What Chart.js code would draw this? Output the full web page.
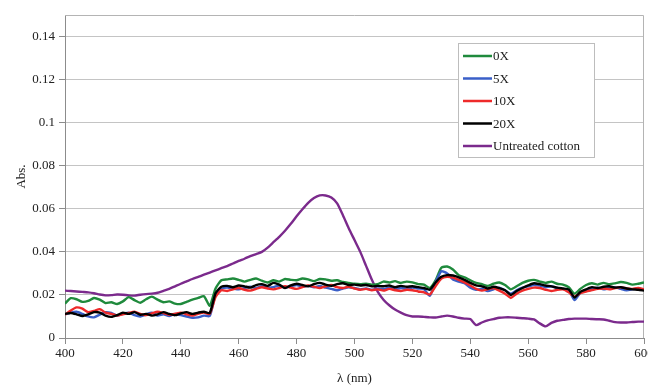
<!DOCTYPE html>
<html lang="en">
<head>
    <meta charset="UTF-8">
    <title>Absorbance spectra</title>
    <style>
        body {
            margin: 0;
            background: white;
        }

        #chart-container {
            width: 648px;
            height: 388px;
        }
    </style>
    <script src="https://cdn.jsdelivr.net/npm/chart.js"></script>
</head>
<body>
    <div id="chart-container">
        <canvas id="absChart" width="648" height="388"></canvas>
    </div>
    <script>
        // wavelength, 2 nm steps from 400 to 600
        const wavelengths = [];
        for (let w = 400; w <= 600; w += 2) wavelengths.push(w);

        const seriesNames = ['0X', '5X', '10X', '20X', 'Untreated cotton'];
        const seriesColors = ['#1f8a3c', '#3a5fc8', '#ee2a2a', '#000000', '#7b2a8c'];

        const abs0X = [
            .0160, .0185, .0180, .0168, .0172, .0186, .0178, .0162, .0166, .0158,
            .0170, .0190, .0176, .0164, .0180, .0192, .0178, .0166, .0170, .0160,
            .0158, .0168, .0178, .0186, .0194, .0150, .0230, .0268, .0272, .0276,
            .0270, .0262, .0270, .0276, .0266, .0258, .0268, .0262, .0274, .0270,
            .0268, .0276, .0272, .0264, .0274, .0272, .0266, .0268, .0260, .0256,
            .0252, .0250, .0252, .0248, .0250, .0262, .0258, .0264, .0256, .0262,
            .0258, .0250, .0248, .0232, .0268, .0326, .0332, .0318, .0292, .0282,
            .0268, .0256, .0250, .0242, .0252, .0258, .0246, .0226, .0240, .0256,
            .0266, .0270, .0262, .0256, .0262, .0252, .0248, .0236, .0206, .0228,
            .0246, .0254, .0248, .0256, .0250, .0254, .0260, .0256, .0248, .0252,
            .0258
        ];

        const abs5X = [
            .0110, .0118, .0122, .0112, .0100, .0096, .0108, .0120, .0116, .0104,
            .0112, .0118, .0106, .0100, .0110, .0118, .0104, .0110, .0102, .0112,
            .0106, .0100, .0094, .0096, .0104, .0102, .0200, .0228, .0234, .0230,
            .0226, .0232, .0238, .0232, .0240, .0234, .0236, .0244, .0234, .0240,
            .0246, .0238, .0242, .0236, .0242, .0234, .0228, .0222, .0230, .0236,
            .0232, .0226, .0230, .0224, .0230, .0228, .0234, .0226, .0232, .0228,
            .0234, .0230, .0226, .0196, .0260, .0310, .0300, .0272, .0262, .0254,
            .0234, .0224, .0228, .0218, .0226, .0234, .0222, .0206, .0222, .0234,
            .0240, .0246, .0244, .0236, .0240, .0232, .0228, .0222, .0176, .0210,
            .0222, .0228, .0234, .0226, .0232, .0236, .0228, .0222, .0226, .0230,
            .0224
        ];

        const abs10X = [
            .0108, .0128, .0142, .0136, .0120, .0126, .0134, .0118, .0112, .0104,
            .0110, .0116, .0122, .0112, .0106, .0114, .0122, .0116, .0108, .0112,
            .0118, .0110, .0104, .0112, .0118, .0112, .0190, .0222, .0218, .0226,
            .0232, .0224, .0220, .0228, .0236, .0230, .0226, .0232, .0240, .0234,
            .0228, .0236, .0244, .0238, .0232, .0240, .0246, .0236, .0232, .0238,
            .0230, .0224, .0228, .0222, .0226, .0220, .0228, .0222, .0218, .0224,
            .0222, .0216, .0212, .0202, .0240, .0276, .0284, .0280, .0270, .0258,
            .0244, .0228, .0220, .0226, .0232, .0220, .0206, .0186, .0206, .0220,
            .0228, .0234, .0232, .0224, .0218, .0224, .0226, .0212, .0192, .0208,
            .0216, .0222, .0228, .0230, .0226, .0232, .0236, .0230, .0228, .0232,
            .0226
        ];

        const abs20X = [
            .0112, .0116, .0110, .0102, .0110, .0120, .0118, .0104, .0098, .0106,
            .0118, .0112, .0120, .0108, .0112, .0104, .0110, .0120, .0112, .0106,
            .0114, .0120, .0112, .0118, .0122, .0116, .0208, .0238, .0242, .0236,
            .0244, .0240, .0234, .0246, .0250, .0242, .0256, .0248, .0232, .0244,
            .0252, .0246, .0240, .0250, .0256, .0248, .0242, .0250, .0254, .0246,
            .0248, .0244, .0246, .0240, .0242, .0240, .0244, .0236, .0242, .0238,
            .0240, .0236, .0232, .0224, .0258, .0284, .0292, .0290, .0282, .0270,
            .0256, .0244, .0240, .0230, .0238, .0232, .0222, .0200, .0218, .0232,
            .0244, .0254, .0250, .0244, .0240, .0234, .0230, .0226, .0188, .0214,
            .0226, .0236, .0232, .0238, .0240, .0234, .0236, .0230, .0226, .0224,
            .0220
        ];

        const absUntreated = [
            .0220, .0218, .0216, .0214, .0212, .0208, .0202, .0198, .0199, .0202,
            .0201, .0198, .0197, .0201, .0204, .0206, .0210, .0219, .0228, .0240,
            .0252, .0263, .0274, .0284, .0294, .0304, .0314, .0324, .0334, .0346,
            .0358, .0368, .0380, .0390, .0400, .0420, .0445, .0470, .0498, .0530,
            .0565, .0598, .0628, .0650, .0662, .0662, .0652, .0625, .0570, .0510,
            .0455, .0400, .0335, .0270, .0215, .0178, .0152, .0132, .0118, .0106,
            .0100, .0100, .0098, .0096, .0095, .0100, .0104, .0100, .0094, .0090,
            .0088, .0060, .0072, .0082, .0088, .0094, .0096, .0096, .0094, .0092,
            .0090, .0086, .0068, .0054, .0070, .0080, .0084, .0088, .0090, .0090,
            .0090, .0088, .0087, .0086, .0080, .0074, .0072, .0072, .0074, .0076,
            .0076
        ];

        const allSeries = [abs0X, abs5X, abs10X, abs20X, absUntreated];
        const drawOrder = [3, 2, 1, 0, 4]; // black on top, purple underneath

        const yTicksMax = 0.14;
        const serif = "'Liberation Serif', 'DejaVu Serif', serif";

        // frame round the plot area (top and right edges)
        const framePlugin = {
            id: 'frame',
            beforeDatasetsDraw(chart) {
                const { ctx, chartArea: a } = chart;
                ctx.save();
                ctx.strokeStyle = '#b4b4b4';
                ctx.lineWidth = 1;
                ctx.beginPath();
                ctx.moveTo(a.left, a.top + 0.5);
                ctx.lineTo(a.right - 0.5, a.top + 0.5);
                ctx.lineTo(a.right - 0.5, a.bottom);
                ctx.stroke();
                ctx.restore();
            }
        };

        // boxed legend sitting inside the plot
        const boxLegendPlugin = {
            id: 'boxLegend',
            afterDraw(chart) {
                const ctx = chart.ctx;
                const x = 458, y = 43, w = 136, h = 114;
                ctx.save();
                ctx.fillStyle = 'white';
                ctx.fillRect(x, y, w, h);
                ctx.strokeStyle = '#bdbdbd';
                ctx.lineWidth = 1;
                ctx.strokeRect(x + 0.5, y + 0.5, w, h);
                ctx.font = '13px ' + serif;
                ctx.textBaseline = 'middle';
                chart.data.datasets.forEach((ds, i) => {
                    const cy = y + 13 + i * 22.5;
                    ctx.strokeStyle = ds.borderColor;
                    ctx.lineWidth = 2.5;
                    ctx.beginPath();
                    ctx.moveTo(x + 5, cy);
                    ctx.lineTo(x + 34, cy);
                    ctx.stroke();
                    ctx.fillStyle = '#222';
                    ctx.fillText(ds.label, x + 35, cy + 1);
                });
                ctx.restore();
            }
        };

        const ctx = document.getElementById('absChart').getContext('2d');
        new Chart(ctx, {
            type: 'line',
            data: {
                datasets: seriesNames.map((name, i) => ({
                    label: name,
                    data: wavelengths.map((w, j) => ({ x: w, y: allSeries[i][j] })),
                    borderColor: seriesColors[i],
                    borderWidth: 2.4,
                    pointRadius: 0,
                    tension: 0.2,
                    order: drawOrder[i]
                }))
            },
            options: {
                responsive: false,
                animation: false,
                layout: {
                    padding: { left: 10, right: 4, top: 15, bottom: 0 }
                },
                scales: {
                    x: {
                        type: 'linear',
                        min: 400,
                        max: 600,
                        afterFit: scale => {
                            scale.height = 50;
                            // let the last label run off the edge, as in the original
                            scale.paddingRight = 0;
                        },
                        ticks: {
                            stepSize: 20,
                            color: '#222',
                            padding: 2,
                            maxRotation: 0,
                            font: { family: serif, size: 13 }
                        },
                        grid: {
                            drawOnChartArea: false,
                            tickLength: 6,
                            tickColor: '#8c8c8c'
                        },
                        border: { color: '#8c8c8c' },
                        title: {
                            display: true,
                            text: 'λ (nm)',
                            color: '#222',
                            padding: { top: 0, bottom: 2 },
                            font: { family: serif, size: 13 }
                        }
                    },
                    y: {
                        min: 0,
                        max: 0.15,
                        afterFit: scale => { scale.width = 55; },
                        afterBuildTicks: scale => {
                            scale.ticks = scale.ticks.filter(t => t.value <= yTicksMax + 1e-9);
                        },
                        ticks: {
                            stepSize: 0.02,
                            color: '#222',
                            padding: 4,
                            font: { family: serif, size: 13 },
                            callback: v => String(+v.toFixed(2))
                        },
                        grid: {
                            color: '#c4c4c4',
                            tickLength: 6,
                            tickColor: '#8c8c8c'
                        },
                        border: { color: '#8c8c8c' },
                        title: {
                            display: true,
                            text: 'Abs.',
                            color: '#222',
                            padding: { top: 4, bottom: 0 },
                            font: { family: serif, size: 13 }
                        }
                    }
                },
                plugins: {
                    legend: { display: false },
                    tooltip: { enabled: false }
                }
            },
            plugins: [framePlugin, boxLegendPlugin]
        });
    </script>
</body>
</html>
